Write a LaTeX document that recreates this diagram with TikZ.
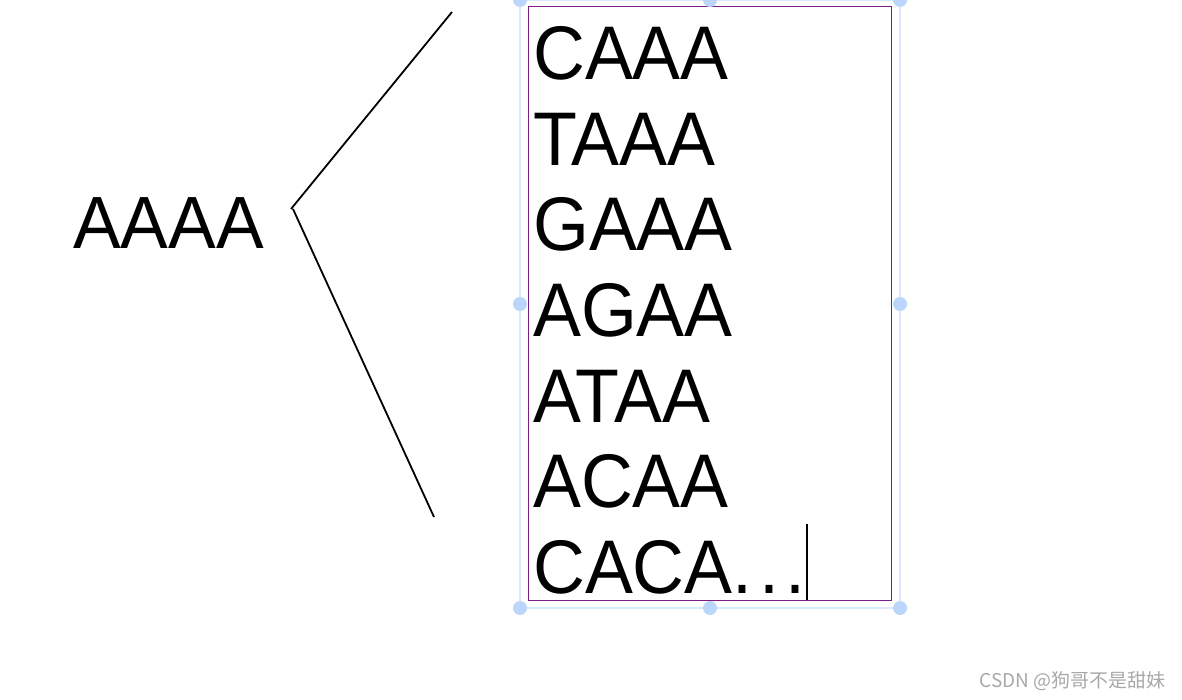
\documentclass[tikz,border=0pt]{standalone}
\usepackage{fontspec}
\setmainfont{Liberation Sans}
\newfontfamily\cjkfont{Noto Sans CJK SC}
\definecolor{selblue}{HTML}{DCE8FB}
\definecolor{handleblue}{HTML}{BCD6FB}
\definecolor{boxpurple}{HTML}{7A1F86}
\definecolor{wmgray}{HTML}{A8A8A8}
\newcommand{\seqtext}[1]{\scalebox{0.945}[1]{#1}}
\begin{document}
\begin{tikzpicture}[x=1pt,y=-1pt,
  seq/.style={anchor=base west,inner sep=0pt,font=\fontsize{76}{76}\selectfont},
  handle/.style={fill=handleblue,draw=none,circle,minimum size=14pt,inner sep=0pt},
  branch/.style={draw=black,line width=1.8pt}]
\useasboundingbox (0,0) rectangle (1182,700);
% selection frame
\draw[selblue,line width=1.5pt] (520,0) rectangle (900,608);
\draw[boxpurple,line width=1pt] (528,7) rectangle (891,600);
\foreach \p/\n in {{(520,0)}/h1,{(710,0)}/h2,{(900,0)}/h3,{(520,304)}/h4,{(900,304)}/h5,{(520,608)}/h6,{(710,608)}/h7,{(900,608)}/h8}
  \node[handle] (\n) at \p {};
% source text
\node[anchor=base west,inner sep=0pt,font=\fontsize{74}{74}\selectfont] (src) at (73,249) {\scalebox{0.965}[1]{AAAA}};
% sequences
\node[seq] (s1) at (533,80) {\seqtext{CAAA}};
\node[seq] (s2) at (533,165.5) {\seqtext{TAAA}};
\node[seq] (s3) at (533,251) {\seqtext{GAAA}};
\node[seq] (s4) at (533,336.5) {\seqtext{AGAA}};
\node[seq] (s5) at (533,422) {\seqtext{ATAA}};
\node[seq] (s6) at (533,507.5) {\seqtext{ACAA}};
\node[seq] (s7) at (533,593) {\seqtext{CACA.\kern0.09em.\kern0.09em.}};
% cursor
\coordinate (ctop) at (807,524);
\coordinate (cbot) at (807,600);
\draw[black,line width=1.8pt] (ctop) -- (cbot);
% branch lines
\coordinate (fork1) at (291,209);
\coordinate (fork2) at (293,209);
\coordinate (end1) at (452,12);
\coordinate (end2) at (434,517);
\draw[branch] (fork1) -- (end1);
\draw[branch] (fork2) -- (end2);
% watermark
\node[anchor=base east,inner sep=0pt,text=wmgray,font=\cjkfont\fontsize{19}{19}\selectfont] (wm) at (1166,687) {CSDN @狗哥不是甜妹};
\end{tikzpicture}
\end{document}
